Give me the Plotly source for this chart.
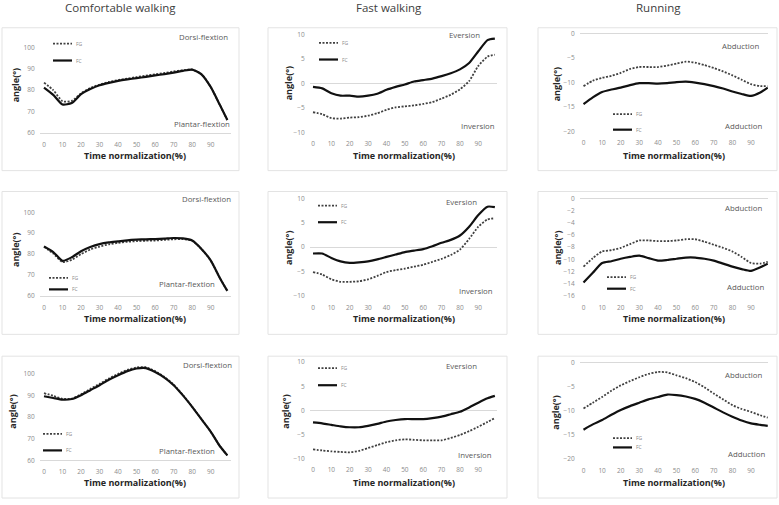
import plotly.graph_objects as go

# ---------------- data ----------------
X = [0, 5, 10, 15, 20, 25, 30, 35, 40, 45, 50, 55, 60, 65, 70, 75, 80, 85, 90, 95, 99]
X_TICKS = [0, 10, 20, 30, 40, 50, 60, 70, 80, 90]

# Comfortable walking (rows 1-3)
CW1_FG = [83.5, 80.0, 74.8, 75.0, 78.5, 81.0, 82.6, 83.8, 84.7, 85.4, 86.1, 86.8, 87.4, 88.0, 88.7, 89.3, 89.6, 87.5, 81.5, 73.0, 66.0]
CW1_FC = [81.2, 77.8, 73.3, 74.0, 78.1, 80.5, 82.3, 83.4, 84.3, 85.0, 85.6, 86.2, 86.9, 87.5, 88.2, 89.0, 89.6, 87.4, 81.5, 73.0, 66.0]
CW2_FG = [83.5, 80.3, 76.2, 77.3, 80.0, 82.2, 83.6, 84.7, 85.4, 85.9, 86.2, 86.4, 86.5, 86.8, 87.1, 87.2, 86.4, 82.5, 77.0, 68.5, 62.4]
CW2_FC = [83.7, 81.0, 76.8, 78.5, 81.4, 83.4, 84.8, 85.6, 86.1, 86.6, 86.9, 87.1, 87.2, 87.4, 87.7, 87.5, 86.5, 82.5, 77.0, 68.5, 62.4]
CW3_FG = [91.0, 89.8, 88.4, 88.5, 90.5, 93.0, 95.3, 97.8, 99.9, 101.8, 102.9, 103.0, 101.2, 98.5, 95.0, 90.2, 84.8, 79.0, 73.3, 66.5, 62.3]
CW3_FC = [89.6, 88.8, 88.0, 88.3, 90.1, 92.4, 94.7, 97.2, 99.3, 101.2, 102.4, 102.6, 100.8, 98.2, 94.7, 90.0, 84.7, 79.0, 73.3, 66.5, 62.3]

# Fast walking
FW1_FG = [-5.9, -6.3, -7.1, -7.2, -7.0, -6.9, -6.6, -6.1, -5.4, -4.9, -4.7, -4.5, -4.2, -3.8, -3.1, -2.3, -1.2, 0.5, 3.6, 5.5, 5.9]
FW1_FC = [-0.7, -1.0, -2.0, -2.5, -2.5, -2.7, -2.5, -2.1, -1.3, -0.7, -0.2, 0.4, 0.7, 1.0, 1.5, 2.1, 2.9, 4.2, 6.6, 8.9, 9.2]
FW2_FG = [-5.1, -5.6, -6.6, -7.1, -7.1, -7.0, -6.6, -5.9, -5.1, -4.7, -4.4, -4.0, -3.6, -3.0, -2.4, -1.6, -0.5, 1.7, 4.2, 5.7, 5.9]
FW2_FC = [-1.3, -1.3, -2.2, -2.9, -3.2, -3.1, -2.9, -2.5, -2.0, -1.5, -1.0, -0.7, -0.4, 0.2, 0.9, 1.5, 2.4, 4.2, 6.6, 8.3, 8.2]
FW3_FG = [-8.1, -8.3, -8.5, -8.6, -8.7, -8.4, -7.8, -7.2, -6.6, -6.2, -6.0, -6.1, -6.2, -6.2, -6.2, -5.7, -5.1, -4.3, -3.4, -2.4, -1.6]
FW3_FC = [-2.5, -2.7, -3.0, -3.3, -3.5, -3.5, -3.2, -2.8, -2.3, -2.0, -1.8, -1.8, -1.8, -1.6, -1.3, -0.8, -0.3, 0.6, 1.6, 2.5, 3.0]

# Running
RN1_FG = [-10.7, -9.6, -9.0, -8.6, -8.0, -7.2, -6.8, -6.8, -6.8, -6.5, -6.1, -5.7, -5.9, -6.4, -7.0, -7.7, -8.5, -9.4, -10.3, -10.7, -10.7]
RN1_FC = [-14.4, -13.0, -11.9, -11.4, -11.0, -10.5, -10.1, -10.1, -10.2, -10.1, -9.9, -9.8, -10.0, -10.3, -10.7, -11.2, -11.8, -12.3, -12.7, -12.0, -11.0]
RN2_FG = [-11.2, -9.8, -8.7, -8.5, -8.1, -7.5, -6.9, -6.9, -7.0, -7.0, -6.9, -6.7, -6.7, -7.1, -7.6, -8.1, -8.7, -9.6, -10.6, -10.7, -10.4]
RN2_FC = [-13.8, -12.2, -10.6, -10.3, -9.9, -9.6, -9.4, -9.8, -10.2, -10.1, -9.9, -9.7, -9.7, -9.9, -10.2, -10.7, -11.2, -11.6, -11.9, -11.3, -10.7]
RN3_FG = [-9.5, -8.3, -7.1, -5.8, -4.7, -3.8, -3.0, -2.3, -1.9, -2.0, -2.6, -3.2, -4.0, -5.1, -6.4, -7.6, -8.8, -9.6, -10.2, -10.9, -11.4]
RN3_FC = [-13.9, -12.8, -11.9, -10.8, -9.8, -9.0, -8.3, -7.6, -7.1, -6.6, -6.7, -7.0, -7.5, -8.3, -9.3, -10.3, -11.2, -12.0, -12.6, -12.9, -13.1]

Y_TICKS_CW = [60, 70, 80, 90, 100]
Y_TICKS_FW = [-10, -5, 0, 5, 10]
Y_TICKS_RN = [-20, -15, -10, -5, 0]
Y_TICKS_RN2 = [-16, -14, -12, -10, -8, -6, -4, -2, 0]

COLUMN_TITLES = ["Comfortable walking", "Fast walking", "Running"]
TOP_LABELS = ["Dorsi-flextion", "Eversion", "Abduction"]
BOTTOM_LABELS = ["Plantar-flextion", "Inversion", "Adduction"]
SERIES_NAMES = ["FG", "FC"]
X_TITLE = "Time normalization(%)"
Y_TITLE = "angle(°)"

PANELS = [
    [(CW1_FG, CW1_FC, Y_TICKS_CW), (FW1_FG, FW1_FC, Y_TICKS_FW), (RN1_FG, RN1_FC, Y_TICKS_RN)],
    [(CW2_FG, CW2_FC, Y_TICKS_CW), (FW2_FG, FW2_FC, Y_TICKS_FW), (RN2_FG, RN2_FC, Y_TICKS_RN2)],
    [(CW3_FG, CW3_FC, Y_TICKS_CW), (FW3_FG, FW3_FC, Y_TICKS_FW), (RN3_FG, RN3_FC, Y_TICKS_RN)],
]

# ---------------- geometry (pixels) ----------------
W, H = 779, 505
COL_X = [(40, 231, 44.0, 1.852), (310, 497, 313.0, 1.837), (580, 768, 583.5, 1.861)]
ROW_Y = [
    [(47.7, 134.0), (35.0, 133.3), (34.0, 132.7)],
    [(214.0, 298.3), (200.0, 298.3), (200.0, 298.3)],
    [(376.7, 464.0), (365.0, 462.3), (365.7, 462.7)],
]
BOX_X = [(2, 239), (268, 507), (538, 777)]
BOX_Y = [(28, 172), (193, 337), (359, 502)]
XTITLE_Y = [157, 321.5, 486.7]
XTITLE_X = [135, 403.5, 673.5]
YTITLE_X = [[15, 288, 556], [15, 288, 557], [13, 286, 556]]
YTITLE_Y = [[86, 84, 85], [252, 250, 250], [415, 415, 416]]
TOP_LBL = [[(230, 37), (482, 35), (761, 46.7)],
           [(233, 201), (479, 203.3), (764, 210)],
           [(234, 367.7), (479, 369), (764, 378.3)]]
BOT_LBL = [[(232, 125), (497, 126.7), (764, 127.3)],
           [(217, 286), (495, 293.3), (766, 289.3)],
           [(217, 454.3), (494, 459), (767, 457.7)]]
LEG = [[(53, 44, 61), (319, 43.3, 60), (613, 115, 130.7)],
       [(49, 280, 291.7), (318, 207.3, 224), (607, 279.3, 291)],
       [(43, 437.3, 454), (318, 371, 388.3), (613, 441.7, 451)]]


def px(x):
    return x / W


def py(y):
    return 1 - y / H


FONT = "Open Sans"
TICK_FONT = dict(family=FONT, size=6.5, color="#8c8c8c")
GRID = "#d9d9d9"
FG_STYLE = dict(color="#404040", width=1.8, dash="2px,1.5px", shape="spline", smoothing=0.6)
FC_STYLE = dict(color="#111111", width=2.2, shape="spline", smoothing=0.6)

fig = go.Figure()
layout = dict(width=W, height=H, margin=dict(l=0, r=0, t=0, b=0),
              paper_bgcolor="white", plot_bgcolor="rgba(0,0,0,0)",
              showlegend=False, shapes=[], annotations=[])

for r in range(3):
    for c in range(3):
        i = r * 3 + c + 1
        fg, fc, yt = PANELS[r][c]
        xl, xr, x0px, xppu = COL_X[c]
        ytop, ybot = ROW_Y[r][c]
        vtop, vbot = max(yt), min(yt)
        yppu = (ybot - ytop) / (vtop - vbot)
        dom_top = ytop - 8
        yrange = [vbot, vtop + (ytop - dom_top) / yppu]
        xrange = [(xl - x0px) / xppu, (xr - x0px) / xppu]
        xa = "x" if i == 1 else f"x{i}"
        ya = "y" if i == 1 else f"y{i}"
        xkey = "xaxis" if i == 1 else f"xaxis{i}"
        ykey = "yaxis" if i == 1 else f"yaxis{i}"

        bx0, bx1 = BOX_X[c]
        by0, by1 = BOX_Y[r]
        layout["shapes"].append(dict(type="rect", xref="paper", yref="paper",
                                     x0=px(bx0), x1=px(bx1), y0=py(by1), y1=py(by0),
                                     line=dict(color="#e3e3e3", width=1), fillcolor="white",
                                     layer="below"))

        layout[xkey] = dict(domain=[px(xl), px(xr)], range=xrange, anchor=ya,
                            tickvals=X_TICKS, ticks="outside", ticklen=5,
                            tickcolor="rgba(0,0,0,0)", tickfont=TICK_FONT,
                            showgrid=False, zeroline=False,
                            showline=(c == 0), linecolor=GRID, linewidth=1)
        layout[ykey] = dict(domain=[py(ybot), py(dom_top)], range=yrange, anchor=xa,
                            tickvals=yt, ticks="outside", ticklen=3,
                            tickcolor="rgba(0,0,0,0)", tickfont=TICK_FONT,
                            showgrid=False, showline=False,
                            zeroline=(c != 0), zerolinecolor=GRID, zerolinewidth=1)

        fig.add_trace(go.Scatter(x=X, y=fg, mode="lines", name=SERIES_NAMES[0],
                                 line=FG_STYLE, xaxis=xa, yaxis=ya))
        fig.add_trace(go.Scatter(x=X, y=fc, mode="lines", name=SERIES_NAMES[1],
                                 line=FC_STYLE, xaxis=xa, yaxis=ya))

        layout["annotations"].append(dict(text="<b>" + X_TITLE + "</b>", xref="paper", yref="paper",
                                          x=px(XTITLE_X[c]), y=py(XTITLE_Y[r]),
                                          xanchor="center", yanchor="middle", showarrow=False,
                                          font=dict(family=FONT, size=9, color="#262626")))
        layout["annotations"].append(dict(text="<b>" + Y_TITLE + "</b>", xref="paper", yref="paper",
                                          x=px(YTITLE_X[r][c]), y=py(YTITLE_Y[r][c]),
                                          xanchor="center", yanchor="middle", showarrow=False,
                                          textangle=-90,
                                          font=dict(family=FONT, size=9, color="#262626")))
        tx, ty = TOP_LBL[r][c]
        layout["annotations"].append(dict(text=TOP_LABELS[c], xref="paper", yref="paper",
                                          x=px(tx), y=py(ty), xanchor="right", yanchor="middle",
                                          showarrow=False,
                                          font=dict(family=FONT, size=7.8, color="#595959")))
        bx, by = BOT_LBL[r][c]
        layout["annotations"].append(dict(text=BOTTOM_LABELS[c], xref="paper", yref="paper",
                                          x=px(bx), y=py(by), xanchor="right", yanchor="middle",
                                          showarrow=False,
                                          font=dict(family=FONT, size=7.8, color="#595959")))
        lx, lyg, lyc = LEG[r][c]
        for name, ly, st in ((SERIES_NAMES[0], lyg, FG_STYLE), (SERIES_NAMES[1], lyc, FC_STYLE)):
            layout["shapes"].append(dict(type="line", xref="paper", yref="paper",
                                         x0=px(lx), x1=px(lx + 19), y0=py(ly), y1=py(ly),
                                         line=dict(color=st["color"], width=st["width"],
                                                   dash=st.get("dash", "solid"))))
            layout["annotations"].append(dict(text=name, xref="paper", yref="paper",
                                              x=px(lx + 21), y=py(ly), xanchor="left",
                                              yanchor="middle", showarrow=False,
                                              font=dict(family=FONT, size=5, color="#8c8c8c")))

HEADER_X = [120, 389, 658]
for c in range(3):
    layout["annotations"].append(dict(text=COLUMN_TITLES[c], xref="paper", yref="paper",
                                      x=px(HEADER_X[c]), y=py(7.5), xanchor="center",
                                      yanchor="middle", showarrow=False,
                                      font=dict(family=FONT, size=11.5, color="#404040")))

fig.update_layout(**layout)
fig.write_html("out.html")
